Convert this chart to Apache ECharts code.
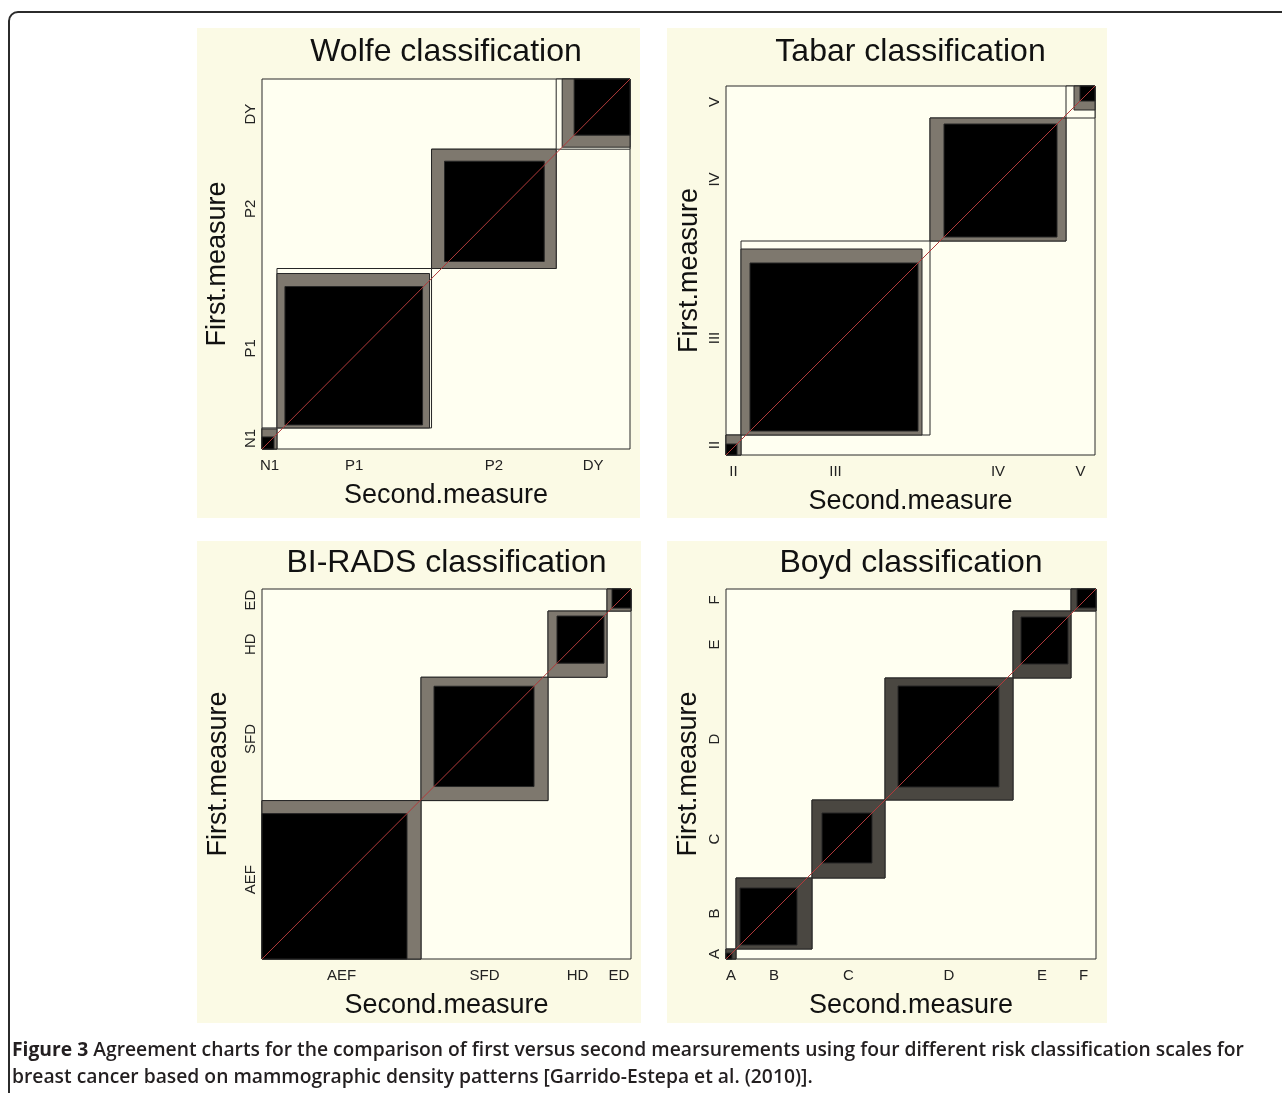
<!DOCTYPE html>
<html>
<head>
<meta charset="utf-8">
<title>Agreement charts</title>
<script src="https://cdn.jsdelivr.net/npm/echarts@6/dist/echarts.min.js"></script>
<style>
  html, body { margin: 0; padding: 0; background: #ffffff; }
  #chart { width: 1282px; height: 1093px; }
</style>
</head>
<body>
<div id="chart"></div>
<script>
// contingency tables
// rows = First.measure (y axis), columns = Second.measure (x axis)
const wolfeCats = ["N1", "P1", "P2", "DY"];
const wolfeTable = [
  [12, 8, 0, 1],
  [3, 138, 13, 5],
  [0, 7, 100, 12],
  [0, 2, 12, 56]
];

const tabarCats = ["II", "III", "IV", "V"];
const tabarTable = [
  [11, 9, 0, 0],
  [4, 168, 14, 8],
  [0, 4, 113, 6],
  [0, 8, 9, 15]
];

const biradsCats = ["AEF", "SFD", "HD", "ED"];
const biradsTable = [
  [145, 13, 0, 0],
  [14, 100, 9, 0],
  [0, 14, 47, 5],
  [0, 0, 3, 19]
];

const boydCats = ["A", "B", "C", "D", "E", "F"];
const boydTable = [
  [6, 4, 0, 0, 0, 0],
  [4, 57, 10, 0, 0, 0],
  [0, 15, 50, 13, 0, 0],
  [0, 0, 13, 101, 8, 0],
  [0, 0, 0, 14, 47, 6],
  [0, 0, 0, 0, 3, 19]
];

const panelTitles = ["Wolfe classification", "Tabar classification", "BI-RADS classification", "Boyd classification"];
const captionLine1 = "Agreement charts for the comparison of first versus second mearsurements using four different risk classification scales for";
const captionLine2 = "breast cancer based on mammographic density patterns [Garrido-Estepa et al. (2010)].";

// layout
const panels = [
  { cats: wolfeCats, table: wolfeTable, grid: { left: 262, top: 79, width: 368, height: 370 }, bg: [197, 28, 443, 490], yNameGap: 31, partial: "#7e786e" },
  { cats: tabarCats, table: tabarTable, grid: { left: 726, top: 86, width: 369, height: 369 }, bg: [667, 28, 440, 490], yNameGap: 23, partial: "#7e786e" },
  { cats: biradsCats, table: biradsTable, grid: { left: 262, top: 589, width: 369, height: 370 }, bg: [197, 541, 444, 482], yNameGap: 30, partial: "#7e786e" },
  { cats: boydCats, table: boydTable, grid: { left: 726, top: 589, width: 370, height: 370 }, bg: [667, 541, 440, 482], yNameGap: 24, partial: "#4a4741" }
];

const FONT = "Liberation Sans, Arial, sans-serif";
const CREAM = "#fffff1";

// Bangdiwala agreement chart geometry: margins, one-step partial agreement, exact agreement
function agreementRects(T) {
  const k = T.length;
  const rowTot = T.map(r => r.reduce((a, b) => a + b, 0));
  const colTot = T[0].map((_, j) => T.reduce((a, r) => a + r[j], 0));
  const xc = [0], yc = [0];
  for (let i = 0; i < k; i++) {
    xc.push(xc[i] + colTot[i]);
    yc.push(yc[i] + rowTot[i]);
  }
  const colSum = (j, from, to) => { let s = 0; for (let r = from; r <= to; r++) s += T[r][j]; return s; };
  const rowSum = (i, from, to) => { let s = 0; for (let c = from; c <= to; c++) s += T[i][c]; return s; };
  const rects = [];
  for (let i = 0; i < k; i++) {
    rects.push([xc[i], yc[i], colTot[i], rowTot[i], 0]);
    const lo = Math.max(0, i - 1), hi = Math.min(k - 1, i + 1);
    rects.push([xc[i] + colSum(i, 0, lo - 1), yc[i] + rowSum(i, 0, lo - 1), colSum(i, lo, hi), rowSum(i, lo, hi), 1]);
    rects.push([xc[i] + colSum(i, 0, i - 1), yc[i] + rowSum(i, 0, i - 1), T[i][i], T[i][i], 2]);
  }
  const xMid = colTot.map((v, i) => xc[i] + v / 2);
  const yMid = rowTot.map((v, i) => yc[i] + v / 2);
  return { rects, n: xc[k], xMid, yMid };
}

const grid = [], xAxis = [], yAxis = [], series = [], graphic = [];

graphic.push({
  type: "rect", z: -20, silent: true,
  shape: { x: 9, y: 12, width: 1400, height: 1200, r: 9 },
  style: { fill: "#ffffff", stroke: "#2b2b2b", lineWidth: 2 }
});

panels.forEach((p, g) => {
  const geo = agreementRects(p.table);
  const labelFor = mids => v => {
    const idx = mids.findIndex(m => Math.abs(m - v) < 1e-6);
    return idx >= 0 ? p.cats[idx] : "";
  };

  graphic.push({
    type: "rect", z: -10, silent: true,
    shape: { x: p.bg[0], y: p.bg[1], width: p.bg[2], height: p.bg[3] },
    style: { fill: "#fbfae5" }
  });
  graphic.push({
    type: "text", z: 10, silent: true,
    x: p.grid.left + p.grid.width / 2,
    y: g < 2 ? 52 : 563,
    style: { text: panelTitles[g], fontSize: 32, fontFamily: FONT, fill: "#111111", align: "center", verticalAlign: "middle" }
  });

  grid.push(Object.assign({ show: true, backgroundColor: CREAM, borderColor: "#2a2a2a", borderWidth: 1 }, p.grid));

  xAxis.push({
    gridIndex: g, type: "value", min: 0, max: geo.n,
    splitLine: { show: false }, axisLine: { show: false }, axisTick: { show: false },
    axisLabel: { customValues: geo.xMid, formatter: labelFor(geo.xMid), fontFamily: FONT, fontSize: 15, color: "#222222", margin: 9 },
    name: "Second.measure", nameLocation: "middle", nameGap: 33,
    nameTextStyle: { fontFamily: FONT, fontSize: 27, color: "#111111" }
  });
  yAxis.push({
    gridIndex: g, type: "value", min: 0, max: geo.n,
    splitLine: { show: false }, axisLine: { show: false }, axisTick: { show: false },
    axisLabel: { customValues: geo.yMid, formatter: labelFor(geo.yMid), rotate: 90, fontFamily: FONT, fontSize: 15, color: "#222222", margin: 4 },
    name: "First.measure", nameLocation: "middle", nameGap: p.yNameGap,
    nameTextStyle: { fontFamily: FONT, fontSize: 27, color: "#111111" }
  });

  const fills = [CREAM, p.partial, "#000000"];
  series.push({
    type: "custom", xAxisIndex: g, yAxisIndex: g, silent: true,
    dimensions: ["x", "y", "w", "h", "kind"],
    encode: { x: 0, y: 1 },
    data: geo.rects,
    renderItem: (params, api) => {
      const x = api.value(0), y = api.value(1), w = api.value(2), h = api.value(3);
      const p0 = api.coord([x, y]), p1 = api.coord([x + w, y + h]);
      return {
        type: "rect",
        shape: { x: p0[0], y: p1[1], width: p1[0] - p0[0], height: p0[1] - p1[1] },
        style: { fill: fills[api.value(4)], stroke: "#262626", lineWidth: 1 }
      };
    }
  });
  series.push({
    type: "line", xAxisIndex: g, yAxisIndex: g, silent: true, z: 5,
    data: [[0, 0], [geo.n, geo.n]],
    symbol: "none",
    lineStyle: { color: "#b03a3a", width: 1 }
  });
});

const capFont = "Open Sans, Noto Sans, sans-serif";
const capSize = 19.3;
const capRich = {
  b: { fontFamily: capFont, fontWeight: 700, fontSize: capSize, fill: "#231f20" },
  n: { fontFamily: capFont, fontWeight: 600, fontSize: capSize, fill: "#231f20" }
};
graphic.push({
  type: "text", silent: true, x: 12, y: 1051,
  style: { text: "{b|Figure 3}{n| " + captionLine1 + "}", rich: capRich, verticalAlign: "middle", fontSize: capSize, fontFamily: capFont }
});
graphic.push({
  type: "text", silent: true, x: 12, y: 1078,
  style: { text: "{n|" + captionLine2 + "}", rich: capRich, verticalAlign: "middle", fontSize: capSize, fontFamily: capFont }
});

const chart = echarts.init(document.getElementById("chart"), null, { renderer: "canvas" });
chart.setOption({
  animation: false,
  backgroundColor: "#ffffff",
  grid, xAxis, yAxis, series, graphic
});
</script>
</body>
</html>
